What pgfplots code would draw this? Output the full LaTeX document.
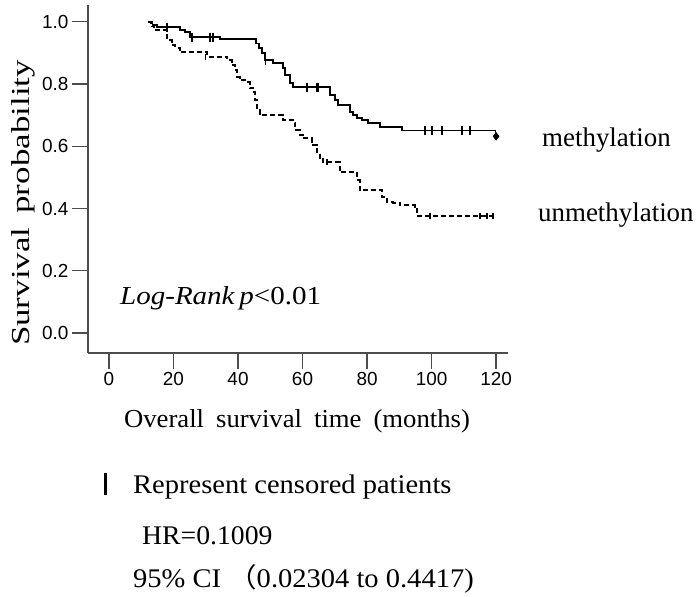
\documentclass[border=0pt]{standalone}
\usepackage{fontspec}
\setmainfont{Liberation Serif}
\setsansfont{Liberation Sans}
\newfontfamily\cjk{Noto Sans CJK SC}
\usepackage{graphicx}
\usepackage{pgfplots}
\pgfplotsset{compat=1.18}

\pgfplotstableread{
t s
12 1.0
13 0.985
14 0.973
18 0.941
19.5 0.925
20.5 0.916
22 0.903
30.4 0.887
36.6 0.877
38.1 0.861
39.1 0.845
39.7 0.822
40.6 0.813
42.8 0.806
43.7 0.787
44.7 0.774
45.3 0.748
45.9 0.716
46.8 0.700
54 0.684
57.1 0.675
57.7 0.652
59.2 0.636
60.2 0.626
62.9 0.604
64.5 0.581
65.4 0.562
66.4 0.549
71.6 0.517
76.9 0.491
77.8 0.459
84.7 0.437
86.2 0.421
88.1 0.418
90.2 0.411
94.9 0.405
95.5 0.376
120 0.376
}\unmeth

\pgfplotstableread{
t s
12 1.0
13.5 0.99
15 0.983
22 0.973
23.6 0.967
25.1 0.951
34.4 0.944
45.5 0.930
46.5 0.915
47.5 0.900
48.3 0.877
50.9 0.867
54 0.851
54.6 0.829
56.1 0.803
57.1 0.790
68.5 0.765
70.1 0.748
71 0.732
74.7 0.710
75.7 0.700
76.9 0.691
78.4 0.684
80.3 0.675
84 0.662
90.9 0.651
119.8 0.632
120 0.632
}\meth

\pgfplotstableread{
t s
18 0.983
25.7 0.951
31.3 0.951
32.2 0.951
48.5 0.877
61.4 0.790
64.5 0.790
64.9 0.790
98 0.651
100.2 0.651
103.3 0.651
109.5 0.651
111.9 0.651
}\methcens

\pgfplotstableread{
t s
120 0.632
}\methend

\pgfplotstableread{
t s
30 0.887
67.6 0.549
99.5 0.376
115 0.376
117.2 0.376
119 0.376
}\unmethcens

\begin{document}
\begin{tikzpicture}[x=1bp,y=1bp]
\path[use as bounding box] (0,0) rectangle (699,597);
\begin{axis}[
  at={(88bp,244bp)}, anchor=south west,
  scale only axis, width=420bp, height=348bp,
  xmin=-6.5, xmax=123.7, ymin=-0.064, ymax=1.054,
  axis x line*=bottom, axis y line*=left,
  axis line style={draw=black!70, line width=1.3bp, -},
  xtick={0,20,40,60,80,100,120},
  ytick={0,0.2,0.4,0.6,0.8,1.0},
  tick align=outside, major tick length=16bp,
  tick style={draw=black!70, line width=1.3bp},
  ticklabel style={font=\sffamily\fontsize{19}{21}\selectfont},
  /pgf/number format/assume math mode=true,
  yticklabel style={/pgf/number format/.cd, fixed, fixed zerofill, precision=1},
  clip=false,
]
\addplot[const plot, black, line width=1.8bp] table[x=t,y=s] {\meth};
\addplot[const plot, black, line width=1.9bp, dash pattern=on 5bp off 3bp] table[x=t,y=s] {\unmeth};
\addplot[only marks, mark=|, mark size=4.5bp, mark options={black, line width=1.5bp, solid}] table[x=t,y=s] {\methcens};
\addplot[only marks, mark=diamond*, mark size=4bp, mark options={black, solid}] table[x=t,y=s] {\methend};
\addplot[only marks, mark=|, mark size=3bp, mark options={black, line width=1.5bp, solid}] table[x=t,y=s] {\unmethcens};
\end{axis}
\node[rotate=90, anchor=base, inner sep=0] at (29,394) {\scalebox{1.35}[1]{\fontsize{26}{30}\selectfont Survival\hspace{0.4em}probability}};
\node[anchor=base, inner sep=0] at (297,169) {\scalebox{1.03}[1]{\fontsize{26}{30}\selectfont Overall\hspace{0.45em}survival\hspace{0.45em}time\hspace{0.45em}(months)}};
\node[anchor=base west, inner sep=0] at (542,450) {\fontsize{27}{30}\selectfont methylation};
\node[anchor=base west, inner sep=0] at (538,375) {\fontsize{27}{30}\selectfont unmethylation};
\node[anchor=base west, inner sep=0] at (120,292) {\scalebox{1.12}[1]{\fontsize{26}{30}\selectfont\textit{Log-Rank\,p}<0.01}};
\node[anchor=base west, inner sep=0] at (104,102) {\rule{2.5bp}{22bp}};
\node[anchor=base west, inner sep=0] at (133,103) {\scalebox{1.06}[1]{\fontsize{27}{30}\selectfont Represent censored patients}};
\node[anchor=base west, inner sep=0] at (142,52) {\scalebox{1.03}[1]{\fontsize{27}{30}\selectfont HR=0.1009}};
\node[anchor=base west, inner sep=0] at (133,9) {\scalebox{1.06}[1]{\fontsize{27}{30}\selectfont 95\% CI {\cjk （}0.02304 to 0.4417)}};
\end{tikzpicture}
\end{document}
